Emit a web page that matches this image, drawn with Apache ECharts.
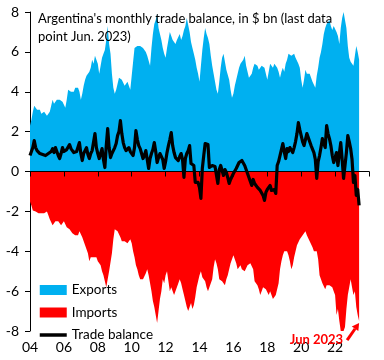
<!DOCTYPE html>
<html>
<head>
<meta charset="utf-8">
<script src="https://cdn.jsdelivr.net/npm/echarts@6/dist/echarts.min.js"></script>
<style>
html,body{margin:0;padding:0;background:#fff;}
#c{width:384px;height:360px;}
</style>
</head>
<body>
<div id="c"></div>
<script>
// Monthly data, Jan 2004 .. Jun 2023, US$ bn
const startYear = 2004;
const exportsBn = [
  2.3, 2.6, 3.0, 3.3, 3.4, 3.1, 3.0, 3.1, 2.9, 3.0, 3.0, 2.9,   // 2004
  2.8, 2.7, 3.0, 3.3, 3.6, 3.4, 3.5, 3.6, 3.5, 3.6, 3.7, 3.5,   // 2005
  3.4, 3.2, 3.6, 4.1, 4.2, 4.0, 4.1, 4.0, 4.2, 4.1, 4.2, 4.0,   // 2006
  3.6, 3.9, 4.3, 4.6, 4.8, 4.9, 5.0, 5.2, 5.6, 5.4, 5.8, 5.6,   // 2007
  5.4, 4.9, 5.3, 5.7, 5.9, 6.1, 6.6, 7.3, 6.4, 5.9, 4.9, 4.2,   // 2008
  3.9, 4.1, 4.4, 4.7, 4.8, 4.6, 4.5, 4.3, 4.4, 4.5, 4.3, 4.1,   // 2009
  4.8, 5.5, 6.2, 6.1, 6.3, 6.4, 6.3, 6.2, 6.2, 6.1, 6.0, 5.8,   // 2010
  5.7, 5.3, 6.2, 6.9, 7.4, 7.6, 7.9, 7.2, 6.9, 6.6, 6.2, 5.9,   // 2011
  5.7, 6.2, 6.6, 7.0, 6.8, 6.6, 6.5, 6.4, 6.6, 6.7, 6.9, 6.6,   // 2012
  6.8, 7.1, 7.3, 7.7, 7.6, 7.0, 6.5, 6.2, 5.9, 5.6, 5.2, 4.9,   // 2013
  4.5, 5.3, 6.1, 6.7, 7.2, 6.9, 6.7, 6.4, 5.8, 5.3, 4.9, 4.5,   // 2014
  4.1, 3.9, 4.5, 5.2, 5.7, 5.9, 5.5, 5.1, 5.1, 4.6, 4.1, 3.7,   // 2015
  3.9, 4.3, 4.6, 4.9, 5.2, 5.4, 5.5, 5.6, 5.8, 5.3, 5.0, 4.7,   // 2016
  4.8, 4.9, 5.2, 5.4, 5.5, 5.3, 5.1, 5.2, 5.3, 5.2, 5.2, 4.9,   // 2017
  4.6, 5.0, 5.4, 5.3, 5.2, 5.4, 5.3, 5.2, 5.0, 4.7, 5.0, 5.2,   // 2018
  5.0, 5.4, 5.6, 5.9, 6.0, 5.8, 5.8, 5.9, 5.7, 5.8, 5.4, 5.2,   // 2019
  4.6, 4.2, 4.6, 5.1, 4.9, 5.0, 4.9, 4.7, 4.5, 4.4, 4.2, 4.8,   // 2020
  5.2, 5.7, 6.0, 6.4, 6.9, 7.2, 7.4, 7.5, 7.6, 7.3, 7.1, 7.3,   // 2021
  7.4, 7.0, 6.8, 6.4, 7.2, 7.7, 8.0, 7.6, 7.2, 6.3, 5.7, 5.5,   // 2022
  5.4, 5.3, 5.8, 6.3, 6.0, 5.6                                  // 2023
];
const importsBn = [
  -1.5, -1.7, -1.95, -1.9, -2.0, -2.0, -2.1, -2.0, -2.1, -2.2, -2.1, -2.1,  // 2004
  -2.0, -2.2, -2.4, -2.5, -2.7, -2.6, -2.5, -2.6, -2.5, -2.6, -2.7, -2.6,   // 2005
  -2.5, -2.6, -2.8, -2.7, -2.9, -3.0, -3.1, -3.0, -3.2, -3.1, -3.2, -3.0,   // 2006
  -3.1, -3.3, -3.5, -3.7, -3.8, -4.1, -4.5, -4.3, -4.4, -4.3, -4.2, -4.3,   // 2007
  -4.5, -4.4, -4.7, -5.0, -5.2, -5.5, -5.8, -5.4, -5.0, -4.9, -4.1, -3.4,   // 2008
  -2.9, -2.8, -3.0, -3.1, -3.3, -3.5, -3.6, -3.5, -3.6, -3.6, -3.5, -3.4,   // 2009
  -3.6, -4.0, -4.3, -4.7, -4.9, -5.2, -5.4, -5.3, -5.4, -5.3, -5.1, -4.9,   // 2010
  -5.2, -5.6, -6.0, -6.5, -6.8, -7.2, -7.6, -7.0, -6.4, -6.0, -5.4, -5.6,   // 2011
  -5.2, -5.0, -5.5, -6.0, -5.8, -6.0, -6.2, -6.1, -5.8, -5.6, -5.4, -5.6,   // 2012
  -5.9, -6.2, -6.5, -6.8, -7.0, -6.8, -6.6, -6.9, -6.7, -6.3, -5.8, -5.5,   // 2013
  -5.2, -5.0, -5.3, -5.4, -5.5, -5.8, -6.0, -5.8, -5.6, -5.4, -4.8, -4.4,   // 2014
  -4.6, -4.9, -5.4, -5.3, -5.5, -5.6, -5.7, -5.4, -5.2, -4.9, -4.6, -4.5,   // 2015
  -4.2, -4.3, -4.6, -4.9, -4.8, -4.7, -4.9, -5.0, -5.0, -4.9, -4.7, -4.8,   // 2016
  -4.6, -4.5, -4.9, -5.5, -5.4, -5.7, -5.9, -6.2, -6.0, -5.8, -5.7, -5.9,   // 2017
  -5.8, -6.2, -6.0, -6.1, -6.4, -6.3, -6.2, -6.2, -5.6, -4.9, -4.5, -4.2,   // 2018
  -4.0, -4.1, -4.0, -4.2, -4.5, -4.9, -4.7, -4.3, -4.0, -3.7, -3.6, -3.4,   // 2019
  -3.3, -3.2, -3.1, -3.0, -3.2, -3.3, -3.5, -3.6, -3.8, -4.0, -3.9, -4.0,   // 2020
  -4.4, -5.2, -5.3, -5.6, -5.6, -5.9, -5.7, -5.8, -5.7, -5.6, -5.8, -6.0,   // 2021
  -6.2, -7.2, -6.9, -7.5, -8.0, -8.0, -8.0, -7.8, -6.9, -6.2, -5.8, -5.4,   // 2022
  -5.8, -6.2, -6.0, -6.8, -7.2, -7.5                                        // 2023
];
const balanceBn = [
  0.8, 1.0, 1.2, 1.55, 1.2, 1.05, 0.95, 0.9, 0.85, 0.85, 0.9, 0.8,     // 2004
  0.85, 0.9, 0.85, 1.0, 1.15, 0.95, 1.2, 1.0, 0.8, 0.65, 0.9, 1.2,     // 2005
  1.0, 0.95, 1.1, 1.2, 1.35, 1.15, 1.05, 0.95, 0.9, 1.0, 1.1, 1.45,    // 2006
  0.9, 0.55, 0.9, 1.0, 1.2, 0.85, 0.65, 0.9, 1.05, 1.0, 1.9, 1.2,      // 2007
  0.9, 0.65, 0.9, 1.15, 0.6, 0.2, 1.3, 2.15, 1.2, 0.7, 0.9, 1.0,       // 2008
  1.2, 1.4, 1.8, 2.0, 2.55, 1.9, 1.45, 1.2, 1.05, 1.1, 1.2, 1.0,       // 2009
  0.95, 0.8, 1.2, 2.05, 1.6, 1.3, 1.15, 0.9, 0.65, 0.8, 1.05, 0.6,     // 2010
  0.15, 0.65, 0.9, 1.1, 1.45, 1.0, 0.45, 0.7, 0.9, 0.95, 0.6, 0.15,    // 2011
  0.5, 0.95, 1.3, 1.6, 1.95, 1.3, 0.95, 0.7, 0.6, 0.55, 0.75, 0.9,     // 2012
  0.6, -0.3, 0.65, 0.9, 1.05, 1.3, 0.4, 0.35, 0.3, -0.55, -0.5, -0.55, // 2013
  -0.8, -1.35, 0.15, 0.8, 1.4, 1.3, 1.35, 0.2, 0.3, 0.3, 0.2, 0.25,    // 2014
  0.15, -0.6, 0.1, 0.3, 0.2, -0.2, 0.1, -0.05, -0.3, -0.6, -0.4, -0.35,// 2015
  -0.1, 0.0, 0.15, 0.3, 0.45, 0.35, 0.55, 0.45, 0.3, 0.1, -0.1, -0.3,  // 2016
  -0.5, -0.7, -0.4, -0.6, -0.5, -0.8, -0.7, -0.95, -1.0, -1.2, -1.45, -1.05, // 2017
  -0.9, -0.8, -0.7, -0.95, -0.85, -0.9, -1.1, 0.3, 0.5, 0.8, 1.1, 1.4, // 2018
  1.0, 0.65, 1.15, 1.0, 1.2, 1.3, 0.95, 1.2, 1.5, 1.9, 2.45, 2.1,      // 2019
  1.8, 1.5, 1.3, 1.6, 1.9, 1.7, 1.6, 1.3, 1.2, 0.95, 0.6, -0.35,       // 2020
  0.5, 0.8, 1.2, 1.65, 1.4, 1.2, 2.3, 1.9, 1.65, 1.3, 0.8, 0.45,       // 2021
  0.7, 0.95, 0.3, 0.9, 1.45, 0.6, -0.35, 0.3, 0.95, 1.8, 1.5, 1.15,    // 2022
  0.6, -0.55, -0.2, -1.2, -0.9, -1.7                                   // 2023
];
const xTicks = [2004, 2006, 2008, 2010, 2012, 2014, 2016, 2018, 2020, 2022];
const yTicks = [-8, -6, -4, -2, 0, 2, 4, 6, 8];
const titleText = "Argentina's monthly trade balance, in $ bn (last data\npoint Jun. 2023)";
const noteText = "Jun 2023";

const monthX = exportsBn.map((_, i) => startYear + i / 12);
const pair = arr => arr.map((v, i) => [monthX[i], v]);

const FONT = 'Lato';
const chart = echarts.init(document.getElementById('c'), null, {renderer: 'canvas'});

const option = {
  animation: false,
  backgroundColor: '#fff',
  textStyle: {fontFamily: FONT},
  title: {
    text: titleText,
    left: 33, top: 5,
    textStyle: {fontFamily: FONT, fontSize: 13, fontWeight: 'normal', color: '#000', lineHeight: 18}
  },
  grid: {left: 30, right: 15, top: 12, bottom: 29, containLabel: false},
  legend: {
    orient: 'vertical', left: 33, top: 278,
    itemWidth: 27, itemHeight: 10, itemGap: 8.5,
    textStyle: {fontFamily: FONT, fontSize: 13.5, color: '#000', lineHeight: 14},
    data: [
      {name: 'Exports', icon: 'rect'},
      {name: 'Imports', icon: 'rect'},
      {name: 'Trade balance', itemStyle: {opacity: 0}, lineStyle: {width: 3.5, color: '#000'}}
    ]
  },
  xAxis: [{
    type: 'value', min: xTicks[0], max: 2024, interval: 2,
    z: 10,
    axisLine: {show: true, onZero: true, lineStyle: {color: '#000', width: 1}},
    axisTick: {show: true, length: 5, lineStyle: {color: '#000'}},
    axisLabel: {show: false},
    splitLine: {show: false}
  }, {
    type: 'value', min: xTicks[0], max: 2024, interval: 2, position: 'bottom',
    axisLine: {show: false, onZero: false},
    axisTick: {show: false},
    axisLabel: {show: true, margin: 9, fontFamily: FONT, fontSize: 14, color: '#000',
      formatter: v => (v >= 2024 ? '' : String(v).slice(2))},
    splitLine: {show: false}
  }],
  yAxis: {
    type: 'value', min: yTicks[0], max: yTicks[yTicks.length - 1], interval: 2,
    axisLine: {show: true, onZero: false, lineStyle: {color: '#000', width: 1}},
    axisTick: {show: true, length: 5, lineStyle: {color: '#000'}},
    axisLabel: {margin: 11, fontFamily: FONT, fontSize: 14, color: '#000'},
    splitLine: {show: false}
  },
  series: [{
    name: 'Exports', type: 'line', xAxisIndex: 0, data: pair(exportsBn),
    symbol: 'none', color: '#00B0F0',
    lineStyle: {width: 0, color: '#00B0F0'},
    areaStyle: {color: '#00B0F0', opacity: 1}, z: 2
  }, {
    name: 'Imports', type: 'line', xAxisIndex: 0, data: pair(importsBn),
    symbol: 'none', color: '#FF0000',
    lineStyle: {width: 0, color: '#FF0000'},
    areaStyle: {color: '#FF0000', opacity: 1}, z: 3
  }, {
    name: 'Trade balance', type: 'line', xAxisIndex: 0, data: pair(balanceBn),
    symbol: 'none', color: '#000',
    lineStyle: {width: 3.2, color: '#000', join: 'round'}, z: 5
  }]
};
chart.setOption(option);

// annotation arrow pointing at the last imports point
const lastIdx = importsBn.length - 1;
const tip = chart.convertToPixel({xAxisIndex: 0, yAxisIndex: 0}, [monthX[lastIdx], importsBn[lastIdx]]);
const tx = tip[0], ty = tip[1] + 2;
const sx = tx - 12, sy = ty + 17;
const ang = Math.atan2(ty - sy, tx - sx);
const hl = 7, hw = 4;
const bx = tx - hl * Math.cos(ang), by = ty - hl * Math.sin(ang);
const px = -Math.sin(ang), py = Math.cos(ang);
chart.setOption({
  graphic: [{
    type: 'line', z: 20,
    shape: {x1: sx, y1: sy, x2: bx, y2: by},
    style: {stroke: '#FF0000', lineWidth: 3}
  }, {
    type: 'polygon', z: 20,
    shape: {points: [[tx, ty], [bx + px * hw, by + py * hw], [bx - px * hw, by - py * hw]]},
    style: {fill: '#FF0000'}
  }, {
    type: 'text', z: 20,
    x: sx - 4, y: sy,
    style: {text: noteText, fill: '#FF0000', font: 'bold 13px ' + FONT, align: 'right', verticalAlign: 'middle'}
  }]
});
</script>
</body>
</html>
